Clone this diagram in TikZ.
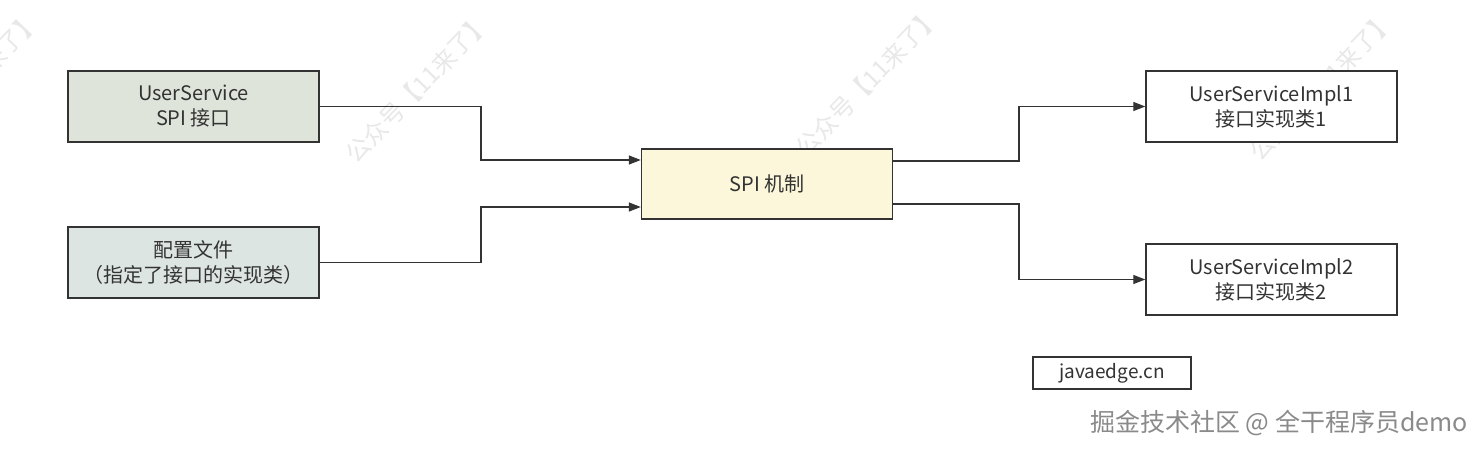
\documentclass[tikz,border=0pt]{standalone}
\usepackage{fontspec}
\setmainfont{Noto Sans CJK SC}
\usetikzlibrary{arrows.meta}
\definecolor{ink}{HTML}{333333}
\definecolor{fillA}{HTML}{DEE4DA}
\definecolor{fillB}{HTML}{DDE5E3}
\definecolor{fillC}{HTML}{FCF7DA}
\definecolor{wm}{HTML}{E8E8E8}
\definecolor{juejin}{HTML}{8A8A8A}
\begin{document}
\begin{tikzpicture}[x=1pt,y=-1pt,
  box/.style={draw=ink,line width=1.4pt,minimum width=251pt,minimum height=71pt,
    inner sep=0pt,align=center,text=ink,font=\fontsize{20}{25}\selectfont},
  conn/.style={draw=ink,line width=1.3pt,-{Triangle[length=12pt,width=9pt]}},
  wmark/.style={text=wm,rotate=46,font=\fontsize{24}{24}\selectfont}]
\useasboundingbox (0,0) rectangle (1483,450);
\fill[white] (0,0) rectangle (1483,450);
% watermarks
\node[wmark] (w1) at (-32,86) {公众号【11来了】};
\node[wmark] (w2) at (418,88) {公众号【11来了】};
\node[wmark] (w3) at (868,82) {公众号【11来了】};
\node[wmark] (w4) at (1322,86) {公众号【11来了】};
% boxes
\node[box,fill=fillA] (us) at (193.5,106.5) {UserService\\SPI 接口};
\node[box,fill=fillB] (cfg) at (193.5,262.5) {配置文件\\（指定了接口的实现类）};
\node[box,fill=fillC,minimum height=70pt] (spi) at (767,184) {SPI 机制};
\node[box,fill=white] (i1) at (1271.5,106.5) {UserServiceImpl1\\接口实现类1};
\node[box,fill=white] (i2) at (1271.5,279.5) {UserServiceImpl2\\接口实现类2};
\node[draw=ink,line width=1.2pt,minimum width=158pt,minimum height=32pt,inner sep=0pt,
  text=ink,font=\fontsize{19}{20}\selectfont] (je) at (1112,373) {javaedge.cn};
% connectors
\coordinate (sl1) at (spi.west |- 0,160);
\coordinate (sl2) at (spi.west |- 0,207);
\coordinate (sr1) at (spi.east |- 0,161);
\coordinate (sr2) at (spi.east |- 0,204);
\draw[conn] (us.east) -| (481,133) |- (sl1);
\draw[conn] (cfg.east) -| (481,230) |- (sl2);
\draw[conn] (sr1) -| (1019,130) |- (i1.west);
\draw[conn] (sr2) -| (1019,240) |- (i2.west);
% juejin mark
\node[text=juejin,anchor=east,font=\fontsize{25}{25}\selectfont,inner sep=0pt] (jj) at (1468,423) {掘金技术社区 @ 全干程序员demo};
\end{tikzpicture}
\end{document}
